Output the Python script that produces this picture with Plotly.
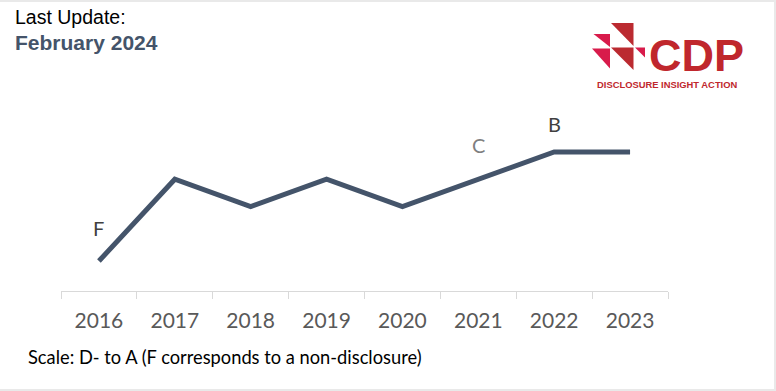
import plotly.graph_objects as go

# ---- data ----
years = ["2016", "2017", "2018", "2019", "2020", "2021", "2022", "2023"]
score_level = [0, 3, 2, 3, 2, 3, 4, 4]          # F=0, D-=1, D=2, C=3, B=4
grade_labels = ["F", "", "", "", "", "C", "B", ""]
update_title = "Last Update:"
update_date = "February 2024"
scale_note = "Scale: D- to A (F corresponds to a non-disclosure)"

W, H = 776, 391
ML, MR, MT, MB = 61, 108, 122, 100
PW, PH = W - ML - MR, H - MT - MB


def px(x):
    return (x - ML) / PW


def py(y):
    return (H - MB - y) / PH


fig = go.Figure()
fig.add_trace(go.Scatter(
    x=years, y=score_level, mode="lines",
    line=dict(color="#44546a", width=5),
    hoverinfo="skip", showlegend=False,
))

annotations = []
label_shift = {"F": 33, "C": 34, "B": 28}
label_color = {"F": "#404040", "C": "#7f7f7f", "B": "#404040"}
for i, (v, g) in enumerate(zip(score_level, grade_labels)):
    if g:
        annotations.append(dict(
            x=i, y=v, xref="x", yref="y", text=g, showarrow=False,
            yshift=label_shift[g],
            font=dict(family="Lato", size=20, color=label_color[g]),
        ))

annotations += [
    dict(x=px(13), y=py(17), xref="paper", yref="paper", text=update_title,
         showarrow=False, xanchor="left", yanchor="middle",
         font=dict(family="Liberation Sans", size=19.5, color="#000000")),
    dict(x=px(13), y=py(42), xref="paper", yref="paper", text="<b>" + update_date + "</b>",
         showarrow=False, xanchor="left", yanchor="middle",
         font=dict(family="Liberation Sans", size=21, color="#44546a")),
    dict(x=px(26), y=py(357), xref="paper", yref="paper", text=scale_note,
         showarrow=False, xanchor="left", yanchor="middle",
         font=dict(family="Lato", size=18.3, color="#000000")),
    dict(x=px(647.5), y=py(54.5), xref="paper", yref="paper", text="<b>CDP</b>",
         showarrow=False, xanchor="left", yanchor="middle", height=34, valign="middle",
         borderpad=0,
         font=dict(family="Liberation Sans", size=45, color="#c0272d")),
    dict(x=px(667.5), y=py(84), xref="paper", yref="paper", text="<b>DISCLOSURE INSIGHT ACTION</b>",
         showarrow=False, xanchor="center", yanchor="middle", borderpad=0,
         font=dict(family="Liberation Sans", size=9.4, color="#c0272d")),
]

def tri(pts, color):
    d = "M " + " L ".join(f"{px(a):.5f},{py(b):.5f}" for a, b in pts) + " Z"
    return dict(type="path", path=d, xref="paper", yref="paper",
                fillcolor=color, line=dict(width=0), layer="above")

dark, pink = "#bb2a30", "#d81b4b"
shapes = [
    dict(type="rect", xref="paper", yref="paper", x0=px(-5), x1=px(774),
         y0=py(389), y1=py(2), fillcolor="#ffffff", line=dict(width=0), layer="below"),
    tri([(611, 23), (633.5, 23), (633.5, 46)], dark),
    tri([(593.5, 34), (610, 34), (610, 47)], pink),
    tri([(592, 48.5), (610, 48.5), (610, 68.5)], pink),
    tri([(611, 47.5), (633.5, 47.5), (633.5, 70)], dark),
    tri([(635, 47.5), (645, 47.5), (645, 57.5)], pink),
]

fig.update_layout(
    width=W, height=H, autosize=False,
    margin=dict(l=ML, r=MR, t=MT, b=MB),
    paper_bgcolor="#e9e9e9", plot_bgcolor="rgba(0,0,0,0)",
    showlegend=False,
    annotations=annotations, shapes=shapes,
    xaxis=dict(
        type="category", range=[-0.5, 7.5], showgrid=False, zeroline=False,
        showline=True, linecolor="#d9d9d9", linewidth=1,
        ticks="outside", tickson="boundaries", tickcolor="#d9d9d9", ticklen=7,
        tickfont=dict(family="Lato", size=21, color="#595959"),
        ticklabelstandoff=11, fixedrange=True,
    ),
    yaxis=dict(range=[-1.1, 5.1], visible=False, fixedrange=True),
)

fig.write_html("out.html", config={"displayModeBar": False},
               post_script="document.body.style.margin='0';")
